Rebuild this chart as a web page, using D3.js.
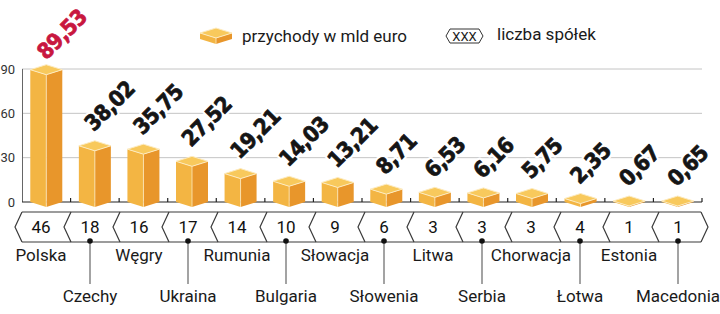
<!DOCTYPE html>
<html>
<head>
<meta charset="utf-8">
<script src="https://cdn.jsdelivr.net/npm/d3@7"></script>
<style>
  html, body { margin: 0; padding: 0; background: #fff; }
  svg { display: block; }
</style>
</head>
<body>
<svg id="chart" width="720" height="314"></svg>
<script>
const countries = ["Polska","Czechy","Węgry","Ukraina","Rumunia","Bulgaria","Słowacja","Słowenia","Litwa","Serbia","Chorwacja","Łotwa","Estonia","Macedonia"];
const revenue = [89.53,38.02,35.75,27.52,19.21,14.03,13.21,8.71,6.53,6.16,5.75,2.35,0.67,0.65];
const companies = [46,18,16,17,14,10,9,6,3,3,3,4,1,1];
const yTicks = [0,30,60,90];
const legendLabels = ["przychody w mld euro","liczba spółek"];
const highlight = "Polska";

const svg = d3.select("#chart");
const labelFont = "Roboto, 'Noto Sans', sans-serif";
const valueFont = "'Liberation Sans Narrow', 'DejaVu Sans Condensed', sans-serif";

const locale = d3.formatLocale({decimal: ",", thousands: " ", grouping: [3], currency: ["", ""]});
const fmt = locale.format(".2f");

const x = d3.scaleBand().domain(countries).range([22, 702]).paddingInner(0).paddingOuter(0);
const y = d3.scaleLinear().domain([0, 90]).range([202, 69]);
const xh = d3.scalePoint().domain(countries).range([41, 678]);

const colLeft = "#f3b543", colRight = "#e8962b", colTop = "#f8c95c", edge = "#fdebc0";
const bw = 32, half = bw / 2, dd = 5;

// gridlines
svg.append("g").selectAll("line").data(yTicks.filter(d => d > 0)).join("line")
  .attr("x1", 22).attr("x2", 702)
  .attr("y1", d => y(d)).attr("y2", d => y(d))
  .attr("stroke", "#c4c4c4").attr("stroke-width", 1);

// y axis line
svg.append("line").attr("x1", 22.5).attr("x2", 22.5).attr("y1", y(90)).attr("y2", y(0))
  .attr("stroke", "#666").attr("stroke-width", 1);

// y tick labels
svg.append("g").selectAll("text").data(yTicks).join("text")
  .attr("x", 15).attr("y", d => y(d)).attr("dy", "0.35em")
  .attr("text-anchor", "end")
  .attr("font-family", labelFont).attr("font-size", 13).attr("fill", "#333")
  .text(d => d);

// baseline with separators
svg.append("line").attr("x1", 22).attr("x2", 702).attr("y1", y(0)).attr("y2", y(0))
  .attr("stroke", "#222").attr("stroke-width", 1.2);
svg.append("g").selectAll("line").data(countries.slice(1).concat([null])).join("line")
  .attr("x1", d => d ? x(d) : 702).attr("x2", d => d ? x(d) : 702)
  .attr("y1", y(0) - 4).attr("y2", y(0))
  .attr("stroke", "#222").attr("stroke-width", 1.2);

function box(g, cx, yv, y0, w2, d) {
  g.append("polygon")
    .attr("points", [[cx - w2, yv], [cx, yv + d], [cx, y0 + d], [cx - w2, y0]].join(" "))
    .attr("fill", colLeft);
  g.append("polygon")
    .attr("points", [[cx, yv + d], [cx + w2, yv], [cx + w2, y0], [cx, y0 + d]].join(" "))
    .attr("fill", colRight);
  g.append("line").attr("x1", cx).attr("x2", cx).attr("y1", yv + d).attr("y2", y0 + d)
    .attr("stroke", edge).attr("stroke-width", 0.8);
  g.append("polygon")
    .attr("points", [[cx - w2, yv], [cx, yv - d], [cx + w2, yv], [cx, yv + d]].join(" "))
    .attr("fill", colTop).attr("stroke", edge).attr("stroke-width", 1).attr("stroke-linejoin", "round");
}

// bars
const bars = svg.append("g");
countries.forEach((c, i) => {
  const cx = x(c) + x.bandwidth() / 2;
  box(bars.append("g"), cx, y(revenue[i]), y(0), half, dd);
});

// value labels
function labelPos(c, i) {
  const cx = x(c) + x.bandwidth() / 2;
  const hi = c === highlight;
  const px = hi ? cx : cx - 1;
  const py = y(revenue[i]) - (hi ? 9 : 13.5);
  return `translate(${px},${py}) rotate(-45)`;
}
const vl = svg.append("g");
vl.selectAll("text.halo").data(countries).join("text").attr("class", "halo")
  .attr("transform", labelPos)
  .attr("font-family", valueFont).attr("font-weight", "bold").attr("font-size", 22)
  .attr("letter-spacing", -0.6)
  .attr("fill", "#fff").attr("stroke", "#fff").attr("stroke-width", 5)
  .attr("stroke-linejoin", "round")
  .text((c, i) => fmt(revenue[i]));
vl.selectAll("text.val").data(countries).join("text").attr("class", "val")
  .attr("transform", labelPos)
  .attr("font-family", valueFont).attr("font-weight", "bold").attr("font-size", 22)
  .attr("letter-spacing", -0.6)
  .attr("fill", c => c === highlight ? "#c8173f" : "#151515")
  .attr("stroke", c => c === highlight ? "#c8173f" : "#151515").attr("stroke-width", 0.7)
  .attr("stroke-linejoin", "round")
  .text((c, i) => fmt(revenue[i]));

// hexagon row (company counts)
const hTop = 212, hBot = 242, hMid = 227;
const hex = svg.append("g").attr("fill", "none").attr("stroke", "#3a3a3a").attr("stroke-width", 1.2)
  .attr("stroke-linejoin", "miter");
const first = xh(countries[0]), last = xh(countries[countries.length - 1]);
hex.append("line").attr("x1", first - 19).attr("x2", last + 23).attr("y1", hTop).attr("y2", hTop);
hex.append("line").attr("x1", first - 19).attr("x2", last + 23).attr("y1", hBot).attr("y2", hBot);
hex.selectAll("polyline.l").data(countries).join("polyline").attr("class", "l")
  .attr("points", c => [[xh(c) - 19, hTop], [xh(c) - 26, hMid], [xh(c) - 19, hBot]].join(" "));
hex.append("polyline")
  .attr("points", [[last + 23, hTop], [last + 30, hMid], [last + 23, hBot]].join(" "));

svg.append("g").selectAll("text").data(countries).join("text")
  .attr("x", c => xh(c)).attr("y", hMid).attr("dy", "0.36em")
  .attr("text-anchor", "middle")
  .attr("font-family", labelFont).attr("font-size", 17).attr("fill", "#111")
  .text((c, i) => companies[i]);

// leader lines + dots for second-row labels
const odd = countries.filter((c, i) => i % 2 === 1);
svg.append("g").selectAll("line").data(odd).join("line")
  .attr("x1", c => xh(c)).attr("x2", c => xh(c)).attr("y1", hBot).attr("y2", 284)
  .attr("stroke", "#666").attr("stroke-width", 1.2);
svg.append("g").selectAll("circle").data(odd).join("circle")
  .attr("cx", c => xh(c)).attr("cy", hBot - 1).attr("r", 2.8).attr("fill", "#111");

// country names
svg.append("g").selectAll("text").data(countries).join("text")
  .attr("x", c => xh(c)).attr("y", (c, i) => i % 2 === 0 ? 261 : 302)
  .attr("text-anchor", "middle")
  .attr("font-family", labelFont).attr("font-size", 17).attr("fill", "#1a1a1a")
  .text(c => c);

// legend
const lg = svg.append("g");
box(lg.append("g"), 216, 33, 39, 16, 5);
lg.append("text").attr("x", 242).attr("y", 36).attr("dy", "0.35em")
  .attr("font-family", labelFont).attr("font-size", 17).attr("fill", "#1a1a1a")
  .text(legendLabels[0]);
lg.append("polygon")
  .attr("points", [[446, 36], [450, 29], [479, 29], [483, 36], [479, 43], [450, 43]].join(" "))
  .attr("fill", "none").attr("stroke", "#333").attr("stroke-width", 1);
lg.append("text").attr("x", 464.5).attr("y", 36.5).attr("dy", "0.36em").attr("text-anchor", "middle")
  .attr("font-family", labelFont).attr("font-size", 13).attr("fill", "#1a1a1a")
  .text("XXX");
lg.append("text").attr("x", 497).attr("y", 34).attr("dy", "0.35em")
  .attr("font-family", labelFont).attr("font-size", 17).attr("fill", "#1a1a1a")
  .text(legendLabels[1]);
</script>
</body>
</html>
